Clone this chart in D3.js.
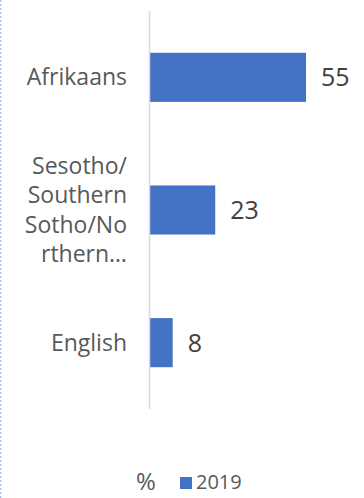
<!DOCTYPE html>
<html>
<head>
<meta charset="utf-8">
<script src="https://cdn.jsdelivr.net/npm/d3@7/dist/d3.min.js"></script>
<style>
  html, body { margin: 0; padding: 0; background: #fff; }
  svg { display: block; }
  text { font-family: "Century Gothic", "Open Sans", "DejaVu Sans", sans-serif; }
</style>
</head>
<body>
<script>
// Home language, 2019 (%)
const categories = ["Afrikaans", "Sesotho/Southern Sotho/Northern Sotho", "English"];
const categoryLines = [["Afrikaans"], ["Sesotho/", "Southern", "Sotho/No", "rthern…"], ["English"]];
const values2019 = [55, 23, 8];
const seriesName = "2019";
const unitLabel = "%";

const W = 364, H = 498;
const svg = d3.select("body").append("svg").attr("width", W).attr("height", H);

// thin dotted frame edge on the left
svg.append("line")
  .attr("x1", 0.5).attr("x2", 0.5).attr("y1", 0).attr("y2", H)
  .attr("stroke", "#a7c0e6").attr("stroke-width", 1.5)
  .attr("stroke-dasharray", "2,2");

const x = d3.scaleLinear().domain([0, 60]).range([150, 320.2]);
const y = d3.scaleBand().domain(categories).range([11, 409]).paddingInner(0.63).paddingOuter(0.315);

// bars
svg.append("g").selectAll("rect")
  .data(categories)
  .join("rect")
  .attr("x", x(0))
  .attr("y", d => y(d))
  .attr("width", (d, i) => x(values2019[i]) - x(0))
  .attr("height", y.bandwidth())
  .attr("fill", "#4472C4");

// vertical category axis line
svg.append("line")
  .attr("x1", x(0) - 0.5).attr("x2", x(0) - 0.5)
  .attr("y1", 11).attr("y2", 409)
  .attr("stroke", "#d9d9d9").attr("stroke-width", 1.5);

// category labels, right aligned, multi-line centred on the band
const lineH = 29.3;
const labels = svg.append("g").attr("fill", "#595959").attr("font-size", 23).attr("text-anchor", "end");
categories.forEach((c, i) => {
  const lines = categoryLines[i];
  const cy = y(c) + y.bandwidth() / 2;
  const t = labels.append("text").attr("x", 127).attr("y", cy - (lines.length - 1) * lineH / 2);
  lines.forEach((l, j) => {
    t.append("tspan").attr("x", 127).attr("dy", j === 0 ? "0.35em" : lineH).text(l);
  });
});

// value labels
svg.append("g").selectAll("text")
  .data(categories)
  .join("text")
  .attr("x", (d, i) => x(values2019[i]) + 15)
  .attr("y", d => y(d) + y.bandwidth() / 2)
  .attr("dy", "0.36em")
  .attr("fill", "#404040")
  .attr("font-size", 25)
  .text((d, i) => values2019[i]);

// legend
const lg = svg.append("g").attr("fill", "#595959");
lg.append("text").attr("x", 136).attr("y", 490).attr("font-size", 24).text(unitLabel);
lg.append("rect").attr("x", 180).attr("y", 477).attr("width", 12).attr("height", 12).attr("fill", "#4472C4");
lg.append("text").attr("x", 196).attr("y", 489).attr("font-size", 20).text(seriesName);
</script>
</body>
</html>
